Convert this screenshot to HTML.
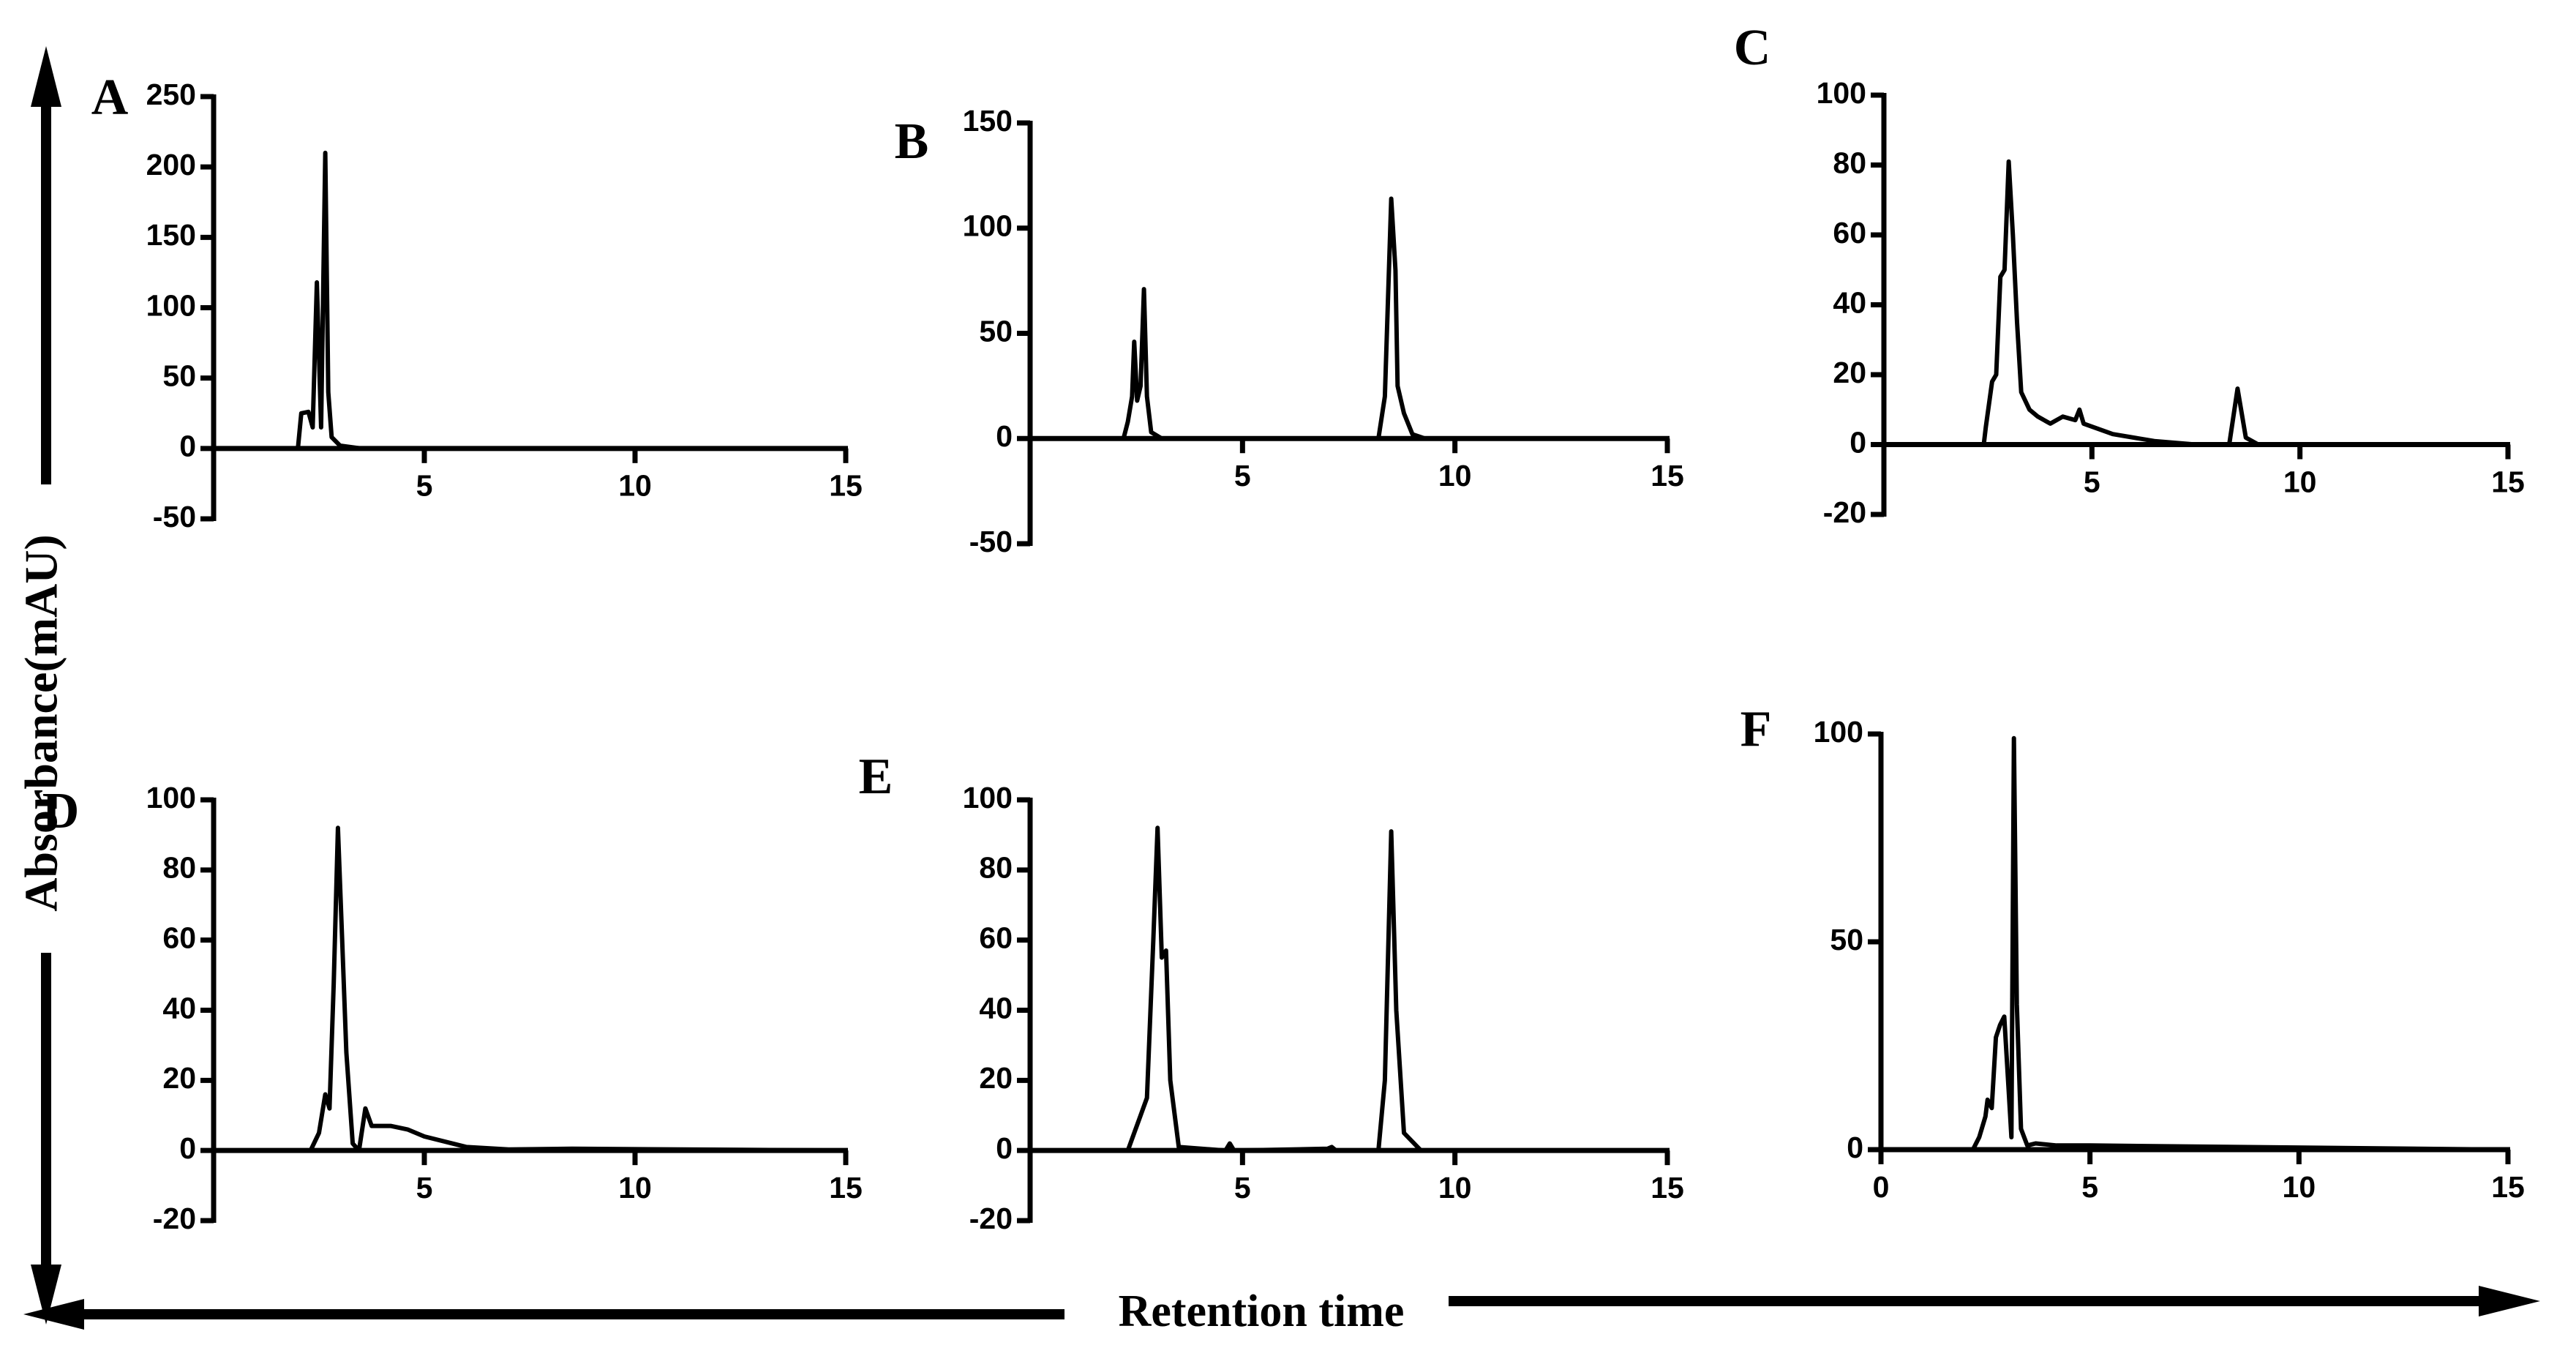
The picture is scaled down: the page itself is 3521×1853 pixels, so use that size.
<!DOCTYPE html>
<html><head><meta charset="utf-8"><style>
html,body{margin:0;padding:0;background:#fff}
svg{display:block}
.tk{font-family:"Liberation Sans",Arial,sans-serif;font-weight:bold;font-size:41px;fill:#000}
.pl{font-family:"Liberation Serif",serif;font-weight:bold;font-size:70px;fill:#000}
</style></head><body>
<svg id="fig" width="3521" height="1853" viewBox="0 0 3521 1853" xmlns="http://www.w3.org/2000/svg">
<g>
<rect x="56" y="140" width="14" height="522" fill="#000"/>
<polygon points="63,63 42,146 84,146" fill="#000"/>
<rect x="56" y="1302" width="14" height="430" fill="#000"/>
<polygon points="63,1810 42,1728 84,1728" fill="#000"/>
<text x="63" y="988" transform="rotate(-90 63 988)" text-anchor="middle" dominant-baseline="middle" style="font-family:'Liberation Serif',serif;font-weight:bold;font-size:64px">Absorbance(mAU)</text>
</g>
<g>
<rect x="110" y="1789" width="1345" height="14" fill="#000"/>
<polygon points="32,1796 115,1775 115,1817" fill="#000"/>
<rect x="1980" y="1771" width="1410" height="14" fill="#000"/>
<polygon points="3472,1778 3388,1757 3388,1799" fill="#000"/>
<text x="1724" y="1798" text-anchor="middle" dominant-baseline="middle" style="font-family:'Liberation Serif',serif;font-weight:bold;font-size:62px">Retention time</text>
</g>
</svg>
<script>
const tA=[2.0,2.08,2.25,2.35,2.45,2.55,2.65,2.72,2.8,3.0,3.5,15];
const vA=[0,25,26,15,118,15,210,40,8,2,0,0];
const tB=[0,2.2,2.3,2.4,2.45,2.52,2.6,2.68,2.75,2.85,3.1,8.2,8.35,8.5,8.6,8.65,8.8,9.0,9.3,15];
const vB=[0,0,8,20,46,18,25,71,20,3,0,0,20,114,80,25,12,2,0,0];
const tC=[0,2.4,2.45,2.6,2.7,2.8,2.9,3.0,3.1,3.2,3.3,3.5,3.7,4.0,4.3,4.6,4.7,4.8,5.5,6.5,7.5,8.3,8.5,8.7,9,15];
const vC=[0,0,5,18,20,48,50,81,60,35,15,10,8,6,8,7,10,6,3,1,0,0,16,2,0,0];
const tD=[0,2.3,2.5,2.65,2.75,2.85,2.95,3.05,3.15,3.3,3.45,3.6,3.75,4.2,4.6,5,6,7,8.5,15];
const vD=[0,0,5,16,12,48,92,60,28,2,0,12,7,7,6,4,1,0.3,0.5,0];
const tE=[0,2.3,2.45,2.6,2.75,2.9,3.0,3.1,3.2,3.3,3.5,4.6,4.7,4.8,7.0,7.1,7.2,8.2,8.35,8.5,8.62,8.8,9.2,15];
const vE=[0,0,5,10,15,60,92,55,57,20,1,0,2,0,0.5,1,0,0,20,91,40,5,0,0];
const tF=[2.2,2.35,2.5,2.55,2.65,2.75,2.85,2.95,3.05,3.12,3.18,3.25,3.35,3.5,3.7,4.2,5,15];
const vF=[0,3,8,12,10,27,30,32,15,3,99,35,5,1,1.5,1,1,0];
const yTicksA=[-50,0,50,100,150,200,250];
const yTicksB=[-50,0,50,100,150];
const yTicksC=[-20,0,20,40,60,80,100];
const yTicksF=[0,50,100];
const xTicks=[5,10,15];
const xTicksF=[0,5,10,15];
const NS="http://www.w3.org/2000/svg";
const svg=document.getElementById('fig');
const panels=[
 {id:'a',lab:'A',lx:150,ly:140,x0:292,x1:1156,yTop:132,yBot:709,ymin:-50,ymax:250,yt:yTicksA,xt:xTicks,t:tA,v:vA},
 {id:'b',lab:'B',lx:1246,ly:200,x0:1408,x1:2279,yTop:168,yBot:743,ymin:-50,ymax:150,yt:yTicksB,xt:xTicks,t:tB,v:vB},
 {id:'c',lab:'C',lx:2395,ly:72,x0:2575,x1:3428,yTop:130,yBot:703,ymin:-20,ymax:100,yt:yTicksC,xt:xTicks,t:tC,v:vC},
 {id:'d',lab:'D',lx:83,ly:1115,x0:292,x1:1156,yTop:1093,yBot:1668,ymin:-20,ymax:100,yt:yTicksC,xt:xTicks,t:tD,v:vD},
 {id:'e',lab:'E',lx:1197,ly:1068,x0:1408,x1:2279,yTop:1093,yBot:1668,ymin:-20,ymax:100,yt:yTicksC,xt:xTicks,t:tE,v:vE},
 {id:'f',lab:'F',lx:2400,ly:1003,x0:2571,x1:3428,yTop:1003,yBot:1571,ymin:0,ymax:100,yt:yTicksF,xt:xTicksF,t:tF,v:vF}
];
function mk(tag,attrs,parent){const e=document.createElementNS(NS,tag);for(const k in attrs)e.setAttribute(k,attrs[k]);(parent||svg).appendChild(e);return e;}
panels.forEach(p=>{
 const g=mk('g',{});
 
 
 const X=t=>p.x0+(p.x1-p.x0)*t/15;
 const Y=v=>p.yBot-(p.yBot-p.yTop)*(v-p.ymin)/(p.ymax-p.ymin);
 const y0=Y(0);
 const lab=mk('text',{x:p.lx,y:p.ly,'class':'pl','text-anchor':'middle','dominant-baseline':'middle'},g);
 lab.textContent=p.lab;
 
 
 const ya=mk('line',{x1:p.x0,y1:p.yTop-3,x2:p.x0,y2:p.yBot+3,stroke:'#000','stroke-width':7},g);
 
 
 const xa=mk('line',{x1:p.x0,y1:y0,x2:p.x1+3,y2:y0,stroke:'#000','stroke-width':7},g);
 
 
 p.yt.forEach(v=>{
  mk('line',{x1:p.x0-18,y1:Y(v),x2:p.x0,y2:Y(v),stroke:'#000','stroke-width':7},g);
  const tx=mk('text',{x:p.x0-24,y:Y(v),'class':'tk','text-anchor':'end','dominant-baseline':'middle'},g);
  tx.textContent=v;
  
  
 });
 p.xt.forEach(t=>{
  mk('line',{x1:X(t),y1:y0,x2:X(t),y2:y0+20,stroke:'#000','stroke-width':7},g);
  const tx=mk('text',{x:X(t),y:y0+54,'class':'tk','text-anchor':'middle','dominant-baseline':'middle'},g);
  tx.textContent=t;
  
  
 });
 const d=p.t.map((t,i)=>(i?'L':'M')+X(t).toFixed(1)+','+Y(p.v[i]).toFixed(1)).join(' ');
 const path=mk('path',{d:d,fill:'none',stroke:'#000','stroke-width':6,'stroke-linejoin':'round'},g);
 
 
});
</script>
</body></html>
